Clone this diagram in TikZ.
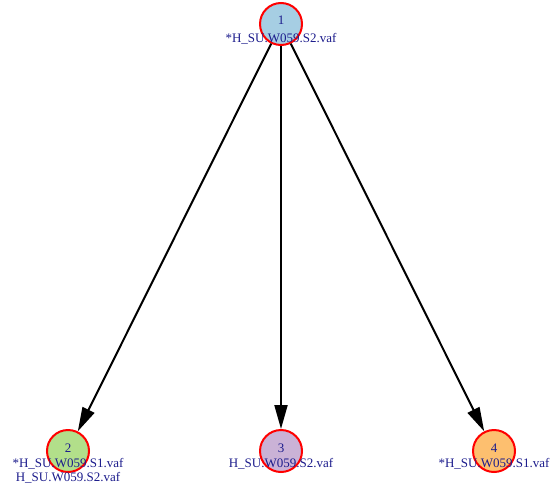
\documentclass[tikz,border=0pt]{standalone}
\usepackage{fontspec}
\setmainfont{Liberation Serif}
\usetikzlibrary{arrows.meta}
\definecolor{txt}{HTML}{1C1C8C}
\definecolor{cA}{HTML}{A6CEE3}
\definecolor{cB}{HTML}{B2DF8A}
\definecolor{cC}{HTML}{CAB2D6}
\definecolor{cD}{HTML}{FDBF6F}
\tikzset{
  vtx/.style={circle, draw=red, line width=2pt, minimum size=42pt, inner sep=0pt},
  lbl/.style={text=txt, font=\fontsize{13}{14}\selectfont, inner sep=0pt, anchor=base, align=center},
  edge/.style={draw=black, line width=2pt, -{Triangle[length=24pt,width=13pt]}, shorten >=0pt}
}
\begin{document}
\begin{tikzpicture}[x=1pt,y=-1pt]
\useasboundingbox (0,0) rectangle (553,485);
\node[vtx, fill=cA] (n1) at (281,24) {};
\node[vtx, fill=cB] (n2) at (68,451) {};
\node[vtx, fill=cC] (n3) at (281,451) {};
\node[vtx, fill=cD] (n4) at (494,451) {};
\draw[edge] (n1) -- (n2);
\draw[edge] (n1) -- (n3);
\draw[edge] (n1) -- (n4);
\node[lbl] (t1a) at (281,24) {1};
\node[lbl] (t1b) at (281,42) {*H\_SU.W059.S2.vaf};
\node[lbl] (t2a) at (68,452) {2};
\node[lbl] (t2b) at (68,467) {*H\_SU.W059.S1.vaf};
\node[lbl] (t2c) at (68,481) {H\_SU.W059.S2.vaf};
\node[lbl] (t3a) at (281,452) {3};
\node[lbl] (t3b) at (281,467) {H\_SU.W059.S2.vaf};
\node[lbl] (t4a) at (494,452) {4};
\node[lbl] (t4b) at (494,467) {*H\_SU.W059.S1.vaf};
\end{tikzpicture}
\end{document}
